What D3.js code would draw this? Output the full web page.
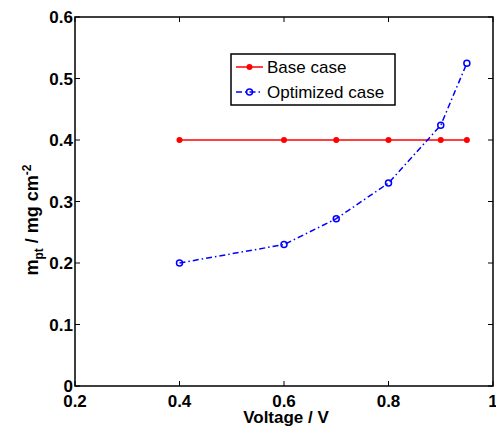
<!DOCTYPE html>
<html>
<head>
<meta charset="UTF-8">
<style>
  body { margin: 0; background: #fff; }
  text { font-family: "Liberation Sans", Arial, sans-serif; }
</style>
</head>
<body>
<script src="https://cdn.jsdelivr.net/npm/d3@7/dist/d3.min.js"></script>
<script>
var voltage = [0.4, 0.6, 0.7, 0.8, 0.9, 0.95];
var baseCase = [0.4, 0.4, 0.4, 0.4, 0.4, 0.4];
var optimizedCase = [0.2, 0.23, 0.272, 0.33, 0.424, 0.525];
var xTicks = [0.2, 0.4, 0.6, 0.8, 1];
var yTicks = [0, 0.1, 0.2, 0.3, 0.4, 0.5, 0.6];

var width = 496, height = 427;
var margin = {top: 17, right: 3, bottom: 41, left: 75};

var svg = d3.select("body").append("svg")
    .attr("width", width)
    .attr("height", height);

var x = d3.scaleLinear().domain([0.2, 1]).range([margin.left, width - margin.right]);
var y = d3.scaleLinear().domain([0, 0.6]).range([height - margin.bottom, margin.top]);

// axes box
svg.append("rect")
    .attr("x", x(0.2)).attr("y", y(0.6))
    .attr("width", x(1) - x(0.2)).attr("height", y(0) - y(0.6))
    .attr("fill", "none").attr("stroke", "#000").attr("stroke-width", 1.5);

// ticks (inward, mirrored)
var tk = 5;
xTicks.forEach(function (t) {
    svg.append("line").attr("x1", x(t)).attr("x2", x(t)).attr("y1", y(0)).attr("y2", y(0) - tk).attr("stroke", "#000");
    svg.append("line").attr("x1", x(t)).attr("x2", x(t)).attr("y1", y(0.6)).attr("y2", y(0.6) + tk).attr("stroke", "#000");
    svg.append("text").attr("x", x(t)).attr("y", y(0) + 21)
        .attr("text-anchor", "middle").attr("font-size", 17).attr("font-weight", "bold")
        .text(t);
});
yTicks.forEach(function (t) {
    svg.append("line").attr("x1", x(0.2)).attr("x2", x(0.2) + tk).attr("y1", y(t)).attr("y2", y(t)).attr("stroke", "#000");
    svg.append("line").attr("x1", x(1)).attr("x2", x(1) - tk).attr("y1", y(t)).attr("y2", y(t)).attr("stroke", "#000");
    svg.append("text").attr("x", x(0.2) - 2).attr("y", y(t) + 6)
        .attr("text-anchor", "end").attr("font-size", 17).attr("font-weight", "bold")
        .text(t);
});

// axis labels
svg.append("text").attr("x", (x(0.2) + x(1)) / 2 + 2).attr("y", 423)
    .attr("text-anchor", "middle").attr("font-size", 17).attr("font-weight", "bold")
    .text("Voltage / V");

var yl = svg.append("text")
    .attr("transform", "translate(38,220) rotate(-90)")
    .attr("text-anchor", "middle").attr("font-size", 18).attr("font-weight", "bold");
yl.append("tspan").text("m");
yl.append("tspan").attr("font-size", 12).attr("dy", 5).text("pt");
yl.append("tspan").attr("dy", -5).text(" / mg cm");
yl.append("tspan").attr("font-size", 12).attr("dy", -7).text("-2");

var line = d3.line().x(function (d) { return x(d[0]); }).y(function (d) { return y(d[1]); });

var baseData = voltage.map(function (v, i) { return [v, baseCase[i]]; });
var optData = voltage.map(function (v, i) { return [v, optimizedCase[i]]; });

svg.append("path").datum(baseData).attr("d", line)
    .attr("fill", "none").attr("stroke", "red").attr("stroke-width", 1.5);
svg.selectAll(".bdot").data(baseData).join("circle")
    .attr("cx", function (d) { return x(d[0]); }).attr("cy", function (d) { return y(d[1]); })
    .attr("r", 3).attr("fill", "red");

svg.append("path").datum(optData).attr("d", line)
    .attr("fill", "none").attr("stroke", "blue").attr("stroke-width", 1.5)
    .attr("stroke-dasharray", "6,3,1.5,3");
svg.selectAll(".odot").data(optData).join("circle")
    .attr("cx", function (d) { return x(d[0]); }).attr("cy", function (d) { return y(d[1]); })
    .attr("r", 3).attr("fill", "none").attr("stroke", "blue").attr("stroke-width", 1.5);

// legend
var lg = svg.append("g");
lg.append("rect").attr("x", 231).attr("y", 54).attr("width", 164).attr("height", 51)
    .attr("fill", "#fff").attr("stroke", "#000").attr("stroke-width", 1.5);
lg.append("line").attr("x1", 236).attr("x2", 263).attr("y1", 67).attr("y2", 67)
    .attr("stroke", "red").attr("stroke-width", 1.5);
lg.append("circle").attr("cx", 249.5).attr("cy", 67).attr("r", 3).attr("fill", "red");
lg.append("text").attr("x", 267).attr("y", 73).attr("font-size", 17).text("Base case");
lg.append("line").attr("x1", 236).attr("x2", 263).attr("y1", 92).attr("y2", 92)
    .attr("stroke", "blue").attr("stroke-width", 1.5).attr("stroke-dasharray", "6,3,1.5,3");
lg.append("circle").attr("cx", 249.5).attr("cy", 92).attr("r", 3)
    .attr("fill", "none").attr("stroke", "blue").attr("stroke-width", 1.5);
lg.append("text").attr("x", 267).attr("y", 98).attr("font-size", 17).text("Optimized case");
</script>
</body>
</html>
